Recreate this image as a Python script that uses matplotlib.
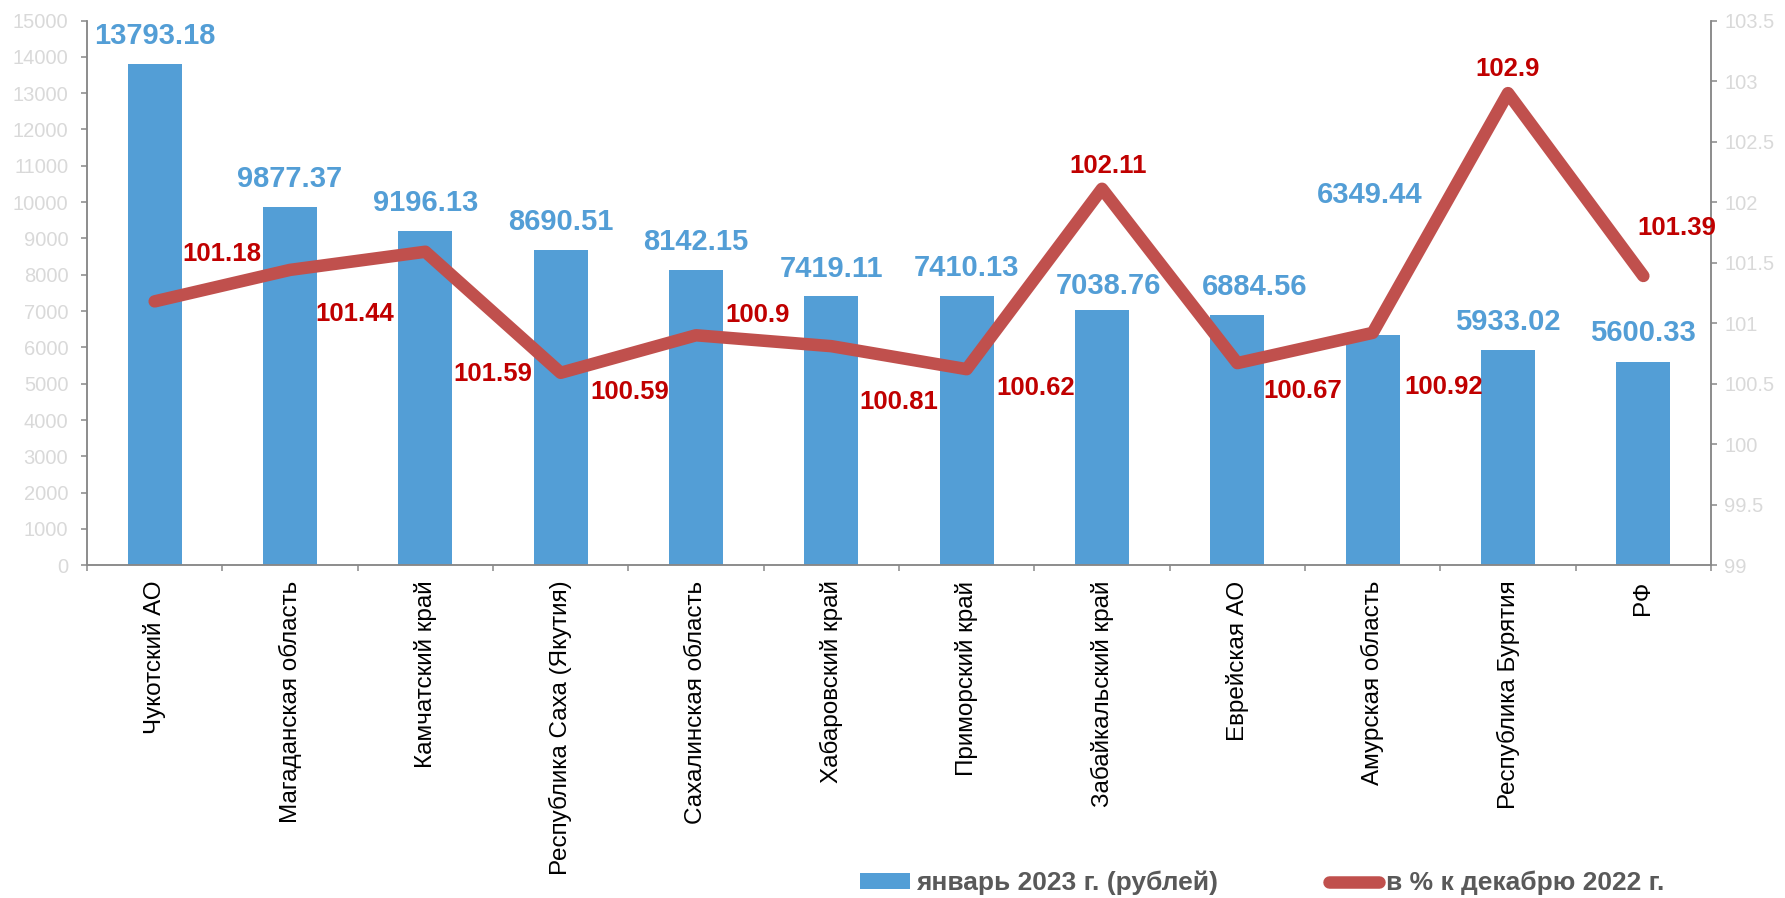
import numpy as np
import matplotlib
matplotlib.use("Agg")
import matplotlib.pyplot as plt
from matplotlib.patches import Patch
from matplotlib.lines import Line2D

plt.rcParams['font.family'] = ['Liberation Sans', 'DejaVu Sans']

# Данные: регионы, стоимость (руб.) и индекс к декабрю 2022 г.
regions = ['Чукотский АО', 'Магаданская область', 'Камчатский край',
           'Республика Саха (Якутия)', 'Сахалинская область', 'Хабаровский край',
           'Приморский край', 'Забайкальский край', 'Еврейская АО',
           'Амурская область', 'Республика Бурятия', 'РФ']
rub_jan2023 = [13793.18, 9877.37, 9196.13, 8690.51, 8142.15, 7419.11,
               7410.13, 7038.76, 6884.56, 6349.44, 5933.02, 5600.33]
pct_dec2022 = [101.18, 101.44, 101.59, 100.59, 100.9, 100.81,
               100.62, 102.11, 100.67, 100.92, 102.9, 101.39]

# смещения подписей (в пикселях) относительно точки
bar_lbl_off = [(0, 28), (0, 28), (0, 28), (0, 28), (0, 28), (0, 27),
               (0, 28), (6, 24), (17, 28), (-3, 140), (0, 28), (0, 29)]
line_lbl_off = [(67, 47), (65, -44), (67, -122), (69, -19), (62, 20), (67, -56),
                (69, -19), (6, 23), (65, -28), (71, -54), (0, 24), (33, 48)]

bar_col = '#539ED6'
line_col = '#C0504D'
tick_col = '#D9D9D9'
spine_col = '#898989'

x = np.arange(len(regions))

fig = plt.figure(figsize=(17.85, 8.98), dpi=100)
ax = fig.add_axes([87 / 1785, 1 - 565.3 / 898, 1624 / 1785, 544.8 / 898])
ax.bar(x, rub_jan2023, width=0.40, color=bar_col, zorder=2)
ax.set_xlim(-0.5, len(regions) - 0.5)
ax.set_ylim(0, 15000)
ax.set_yticks(np.arange(0, 15001, 1000))
ax.set_xticks(x)
ax.set_xticklabels(regions, rotation=90, fontsize=17.5, color='black')
ax.set_xticks(np.arange(-0.5, len(regions), 1), minor=True)
ax.tick_params(axis='x', which='major', length=0, pad=11)
ax.tick_params(axis='x', which='minor', length=4.5, width=1.1, color=spine_col)
ax.tick_params(axis='y', length=4.5, width=1.1, color=spine_col,
               labelsize=14.5, labelcolor=tick_col, pad=9)

ax2 = ax.twinx()
ax2.plot(x, pct_dec2022, color=line_col, lw=9,
         solid_capstyle='round', solid_joinstyle='round', zorder=3)
ax2.set_ylim(99, 103.5)
ax2.set_yticks(np.arange(99, 103.51, 0.5))
ax2.set_yticklabels(['%g' % v for v in np.arange(99, 103.51, 0.5)])
ax2.tick_params(axis='y', length=4.5, width=1.1, color=spine_col,
                labelsize=14.5, labelcolor=tick_col, pad=5)

for a in (ax, ax2):
    a.spines['top'].set_visible(False)
    for s in ('left', 'right', 'bottom'):
        a.spines[s].set_color(spine_col)
        a.spines[s].set_linewidth(1.1)

# подписи значений
for i, v in enumerate(rub_jan2023):
    ax2.annotate(f'{v:.2f}', xy=(x[i], v), xycoords=ax.transData,
                 xytext=bar_lbl_off[i], textcoords='offset pixels',
                 ha='center', va='center', fontsize=21, fontweight='bold',
                 color=bar_col, zorder=5)
for i, v in enumerate(pct_dec2022):
    ax2.annotate('%g' % v, xy=(x[i], v), xytext=line_lbl_off[i],
                 textcoords='offset pixels', ha='center', va='center',
                 fontsize=18.5, fontweight='bold', color='#C00000', zorder=5)

handles = [Patch(facecolor=bar_col, edgecolor='none'),
           Line2D([], [], color=line_col, lw=9, solid_capstyle='round')]
leg = fig.legend(handles, ['январь 2023 г. (рублей)', 'в % к декабрю 2022 г.'],
                 loc='center', bbox_to_anchor=(1262 / 1785, 1 - 883 / 898),
                 ncol=2, frameon=False, handlelength=1.9, handleheight=0.55,
                 handletextpad=0.25, columnspacing=4.2,
                 prop={'size': 19, 'weight': 'bold'})
for t in leg.get_texts():
    t.set_color('#595959')

fig.savefig('out.png', dpi=100)
